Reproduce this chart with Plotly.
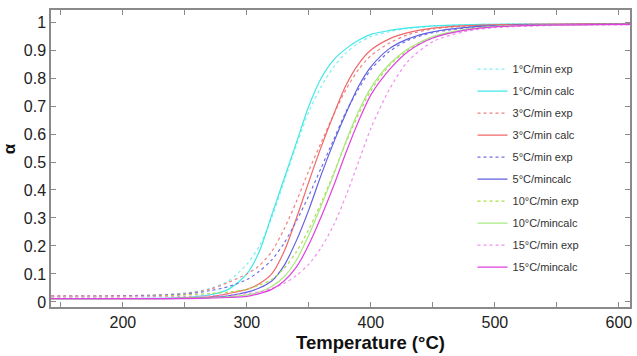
import plotly.graph_objects as go

temps = [142, 180, 220, 250, 270, 285, 300, 310, 320, 330, 340, 350, 360, 370,
         380, 390, 400, 415, 430, 450, 475, 500, 550, 609]

a1_exp = [0.020, 0.021, 0.024, 0.032, 0.048, 0.075, 0.135, 0.200, 0.300, 0.430, 0.560, 0.680,
          0.770, 0.840, 0.890, 0.925, 0.948, 0.966, 0.977, 0.985, 0.990, 0.992, 0.993, 0.993]
a1_calc = [0.012, 0.012, 0.013, 0.016, 0.025, 0.045, 0.100, 0.180, 0.310, 0.440, 0.570, 0.700,
           0.800, 0.865, 0.905, 0.935, 0.956, 0.970, 0.979, 0.986, 0.990, 0.992, 0.993, 0.994]
a3_exp = [0.022, 0.022, 0.024, 0.030, 0.045, 0.070, 0.100, 0.130, 0.180, 0.260, 0.360, 0.470,
          0.570, 0.670, 0.760, 0.830, 0.880, 0.925, 0.955, 0.975, 0.985, 0.990, 0.992, 0.993]
a3_calc = [0.012, 0.012, 0.012, 0.014, 0.018, 0.030, 0.045, 0.065, 0.100, 0.180, 0.300, 0.430,
           0.555, 0.670, 0.775, 0.850, 0.900, 0.940, 0.962, 0.978, 0.986, 0.990, 0.993, 0.994]
a5_exp = [0.020, 0.020, 0.022, 0.028, 0.040, 0.055, 0.080, 0.110, 0.150, 0.210, 0.290, 0.380,
          0.480, 0.580, 0.680, 0.760, 0.830, 0.895, 0.935, 0.962, 0.978, 0.986, 0.990, 0.992]
a5_calc = [0.012, 0.012, 0.012, 0.013, 0.016, 0.022, 0.035, 0.050, 0.075, 0.130, 0.220, 0.330,
           0.455, 0.570, 0.675, 0.770, 0.840, 0.905, 0.940, 0.965, 0.980, 0.987, 0.991, 0.993]
a10_exp = [0.018, 0.018, 0.020, 0.025, 0.030, 0.035, 0.045, 0.060, 0.080, 0.120, 0.180, 0.260,
           0.355, 0.460, 0.570, 0.670, 0.755, 0.845, 0.900, 0.945, 0.972, 0.984, 0.990, 0.992]
a10_calc = [0.012, 0.012, 0.012, 0.013, 0.015, 0.018, 0.025, 0.035, 0.055, 0.090, 0.150, 0.240,
            0.345, 0.455, 0.575, 0.680, 0.765, 0.850, 0.905, 0.948, 0.973, 0.985, 0.990, 0.992]
a15_exp = [0.018, 0.018, 0.019, 0.020, 0.022, 0.025, 0.030, 0.036, 0.048, 0.066, 0.095, 0.135,
           0.195, 0.275, 0.380, 0.500, 0.620, 0.760, 0.860, 0.930, 0.965, 0.980, 0.988, 0.990]
a15_calc = [0.012, 0.012, 0.012, 0.012, 0.014, 0.016, 0.020, 0.030, 0.045, 0.075, 0.125, 0.205,
            0.305, 0.415, 0.535, 0.645, 0.740, 0.830, 0.895, 0.943, 0.970, 0.983, 0.990, 0.992]

series = [
    ("1°C/min exp", a1_exp, "#7ff0f0", "dot"),
    ("1°C/min calc", a1_calc, "#40e8e8", "solid"),
    ("3°C/min exp", a3_exp, "#f08080", "dot"),
    ("3°C/min calc", a3_calc, "#f06868", "solid"),
    ("5°C/min exp", a5_exp, "#7070e8", "dot"),
    ("5°C/mincalc", a5_calc, "#6060e0", "solid"),
    ("10°C/min exp", a10_exp, "#a8e040", "dot"),
    ("10°C/mincalc", a10_calc, "#a8e880", "solid"),
    ("15°C/min exp", a15_exp, "#f090f0", "dot"),
    ("15°C/mincalc", a15_calc, "#e040e0", "solid"),
]

xtick_vals = [150, 200, 250, 300, 350, 400, 450, 500, 550, 600]
xtick_text = ["", "200", "", "300", "", "400", "", "500", "", "600"]
ytick_vals = [0, 0.1, 0.2, 0.3, 0.4, 0.5, 0.6, 0.7, 0.8, 0.9, 1]
ytick_text = ["0", "0.1", "0.2", "0.3", "0.4", "0.5", "0.6", "0.7", "0.8", "0.9", "1"]

fig = go.Figure()
for i, (name, vals, color, dash) in enumerate(series):
    fig.add_trace(go.Scatter(
        x=temps, y=vals, mode="lines", name=name,
        line=dict(color=color, width=1.2, dash=dash, shape="spline", smoothing=0.8),
        legendgroup=f"g{i}",
    ))

axis_common = dict(
    showline=True, linecolor="#8a8a8a", linewidth=1.5, mirror="ticks",
    ticks="inside", ticklen=5, tickcolor="#8a8a8a", tickwidth=1,
    showgrid=False, zeroline=False,
    tickfont=dict(family="Liberation Sans, Arial, sans-serif", size=16, color="#222"),
)

fig.update_layout(
    width=637, height=356,
    margin=dict(l=51, r=5, t=10, b=49),
    paper_bgcolor="white", plot_bgcolor="white",
    xaxis=dict(range=[142, 609], tickvals=xtick_vals, ticktext=xtick_text, **axis_common),
    yaxis=dict(range=[-0.018, 1.043], tickvals=ytick_vals, ticktext=ytick_text, **axis_common),
    legend=dict(
        x=0.728, y=0.85, xanchor="left", yanchor="top",
        font=dict(family="Liberation Sans, Arial, sans-serif", size=11, color="#333"),
        bgcolor="rgba(0,0,0,0)", tracegroupgap=3,
    ),
    showlegend=True,
    annotations=[
        dict(text="<b>Temperature (°C)</b>", xref="paper", yref="paper",
             x=(372 - 51) / 581, y=-(343 - 307) / 297, xanchor="center", yanchor="middle",
             showarrow=False,
             font=dict(family="Liberation Sans, Arial, sans-serif", size=18.5, color="#111")),
        dict(text="<b>α</b>", xref="paper", yref="paper",
             x=-(51 - 9) / 581, y=(307 - 149) / 297, xanchor="center", yanchor="middle",
             textangle=-90, showarrow=False,
             font=dict(family="Liberation Sans, Arial, sans-serif", size=17, color="#111")),
    ],
)

fig.write_html("out.html")
